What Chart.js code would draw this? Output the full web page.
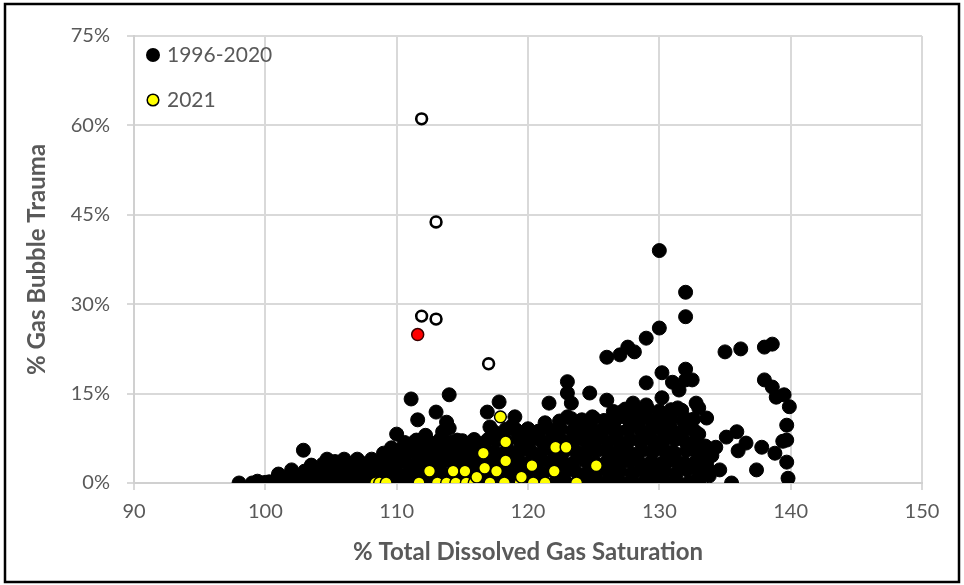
<!DOCTYPE html>
<html>
<head>
<meta charset="utf-8">
<script src="https://cdn.jsdelivr.net/npm/chart.js@4.4.1/dist/chart.umd.min.js"></script>
<style>
  html, body { margin: 0; padding: 0; background: #ffffff; }
  #wrap { width: 964px; height: 585px; position: relative; }
</style>
</head>
<body>
<div id="wrap"><canvas id="gbtChart"></canvas></div>
<script>
// % total dissolved gas saturation vs % gas bubble trauma, [x, y]
const obs19962020 = [
    // scattered / upper points
    [98.0,0],[99.0,0],[99.4,0.3],[99.8,0],[100.3,0.2],[100.8,0.5],[101.0,1.5],[101.5,0.4],
    [102.0,2.2],[102.3,0.8],[102.9,5.5],[103.0,1.2],[103.4,0.3],[103.7,2.0],[104.0,0.6],
    [104.3,1.6],[104.7,4.0],[104.8,2.4],
    [105.2,0.2],[105.4,1.2],[105.6,3.0],[106.0,4.0],[106.2,1.8],[106.5,0.4],[106.8,2.6],
    [107.0,4.0],[107.3,1.0],[107.6,3.2],[108.1,4.0],[108.0,0.2],[108.4,2.0],[108.8,3.4],
    [109.0,0.8],[109.3,4.8],[109.6,5.9],[109.7,2.6],[110.0,8.2],[110.0,1.0],[110.3,3.8],
    [110.5,5.9],[110.8,0.2],
    [111.1,14.1],[111.0,2.6],[111.3,6.8],[111.5,5.2],[111.6,10.6],[111.8,1.2],[112.0,4.0],
    [112.2,8.0],[112.5,0.5],[112.7,6.0],[113.0,11.9],[113.0,2.8],[113.3,4.6],[113.5,8.6],
    [113.8,10.2],[114.0,14.8],[114.0,9.2],[114.2,5.6],[114.5,3.2],[114.6,7.2],[114.8,0.6],
    [115.0,5.0],[115.3,6.6],[115.5,2.4],[115.8,4.2],
    [116.0,0.4],[116.2,6.4],[116.5,3.4],[116.9,11.9],[117.1,9.4],[117.0,7.4],[117.3,5.2],
    [117.5,1.0],[117.8,13.6],[117.7,3.2],[118.0,8.0],[118.4,5.6],[118.6,1.4],[118.8,9.6],
    [119.0,11.1],[119.1,8.9],[119.2,4.4],[119.5,6.4],[119.7,2.4],[120.0,0.4],[120.0,7.6],
    [120.3,5.0],[120.6,3.2],[120.8,8.6],
    [121.0,1.2],[121.3,10.1],[121.6,13.4],[121.5,6.0],[121.8,3.6],[122.0,8.4],[122.3,0.6],
    [122.5,4.6],[122.7,7.0],[123.0,17.0],[123.0,15.1],[123.3,13.4],[123.0,11.1],[123.2,2.6],
    [123.5,9.0],[123.8,5.0],[124.0,1.2],[124.2,7.4],[124.5,3.6],[124.7,15.1],[124.9,11.1],
    [124.8,9.2],[125.0,5.6],[125.3,0.4],[125.5,7.8],
    [126.0,13.9],[126.0,21.1],[125.9,2.2],[126.2,10.0],[126.4,5.0],[126.7,8.2],[126.8,0.8],
    [127.0,21.5],[127.1,11.9],[127.2,3.6],[127.5,6.6],[127.6,22.8],[127.8,9.6],[128.0,13.4],
    [128.1,22.0],[128.0,1.6],[128.3,4.8],[128.5,11.0],[128.7,7.6],[129.0,16.8],[129.0,13.1],
    [129.0,24.3],[129.0,0.4],[129.2,3.0],[129.5,9.6],[129.6,5.6],[130.0,39.0],[130.0,26.0],
    [130.2,18.5],[130.2,14.3],[130.0,11.6],[130.0,1.4],[130.3,7.4],
    [130.6,3.6],[130.8,10.0],[131.0,16.9],[131.0,5.2],[131.2,0.6],[131.5,15.6],[131.4,12.6],
    [131.7,8.0],[132.0,32.0],[132.0,27.9],[132.0,19.1],[132.0,17.3],[132.0,2.6],[132.2,10.6],
    [132.3,5.8],[132.5,17.3],[132.6,0.2],[132.8,13.4],[133.0,12.6],[133.0,8.2],[133.2,3.8],
    [133.6,10.9],[133.5,6.2],[133.8,1.2],[134.0,4.6],[134.3,6.0],[134.6,2.2],
    [135.0,22.0],[135.1,7.7],[135.5,0],[135.9,8.6],[136.2,22.5],[136.6,6.7],[136.0,5.4],
    [137.4,2.2],[137.8,6.0],[138.0,22.8],[138.6,23.3],[138.0,17.3],[138.6,16.1],[138.9,14.4],
    [139.5,14.8],[139.9,12.8],[139.7,9.7],[139.7,7.2],[139.4,7.0],[139.7,3.5],[139.8,0.8],
    [138.8,5.0],
    // dense mass near the bottom
    [100.0,0.1],[100.9,0.3],[101.8,0.0],[102.7,0.4],[103.6,0.1],[104.5,0.0],[105.3,0.5],
    [106.1,0.0],[107.0,0.3],[107.8,0.0],[108.6,0.4],[109.5,0.0],[110.3,0.3],[111.1,0.0],
    [112.0,0.2],[112.8,0.5],[113.6,0.1],[114.4,0.4],[115.2,0.2],[116.1,0.0],[116.9,0.5],
    [117.7,0.0],[118.6,0.3],[119.4,0.1],[120.3,0.0],[121.1,0.4],[122.0,0.0],[122.8,0.3],
    [123.7,0.0],[124.5,0.5],[125.4,0.0],[126.2,0.3],[127.1,0.0],[127.9,0.4],[128.8,0.0],
    [129.6,0.3],[130.5,0.0],[131.3,0.5],[132.2,0.0],[133.0,0.3],
    [101.2,1.0],[102.1,1.6],[103.0,2.0],[103.9,1.7],[104.8,2.1],[105.7,1.6],[106.6,2.0],
    [107.4,1.7],[108.3,2.2],[109.1,1.8],[110.0,2.0],[110.9,1.6],[111.7,2.1],[112.6,1.8],
    [113.4,2.0],[114.3,1.6],[115.1,2.1],[116.0,1.8],[116.8,2.0],[117.7,1.7],[118.5,2.2],
    [119.4,1.8],[120.2,2.0],[121.1,1.6],[121.9,2.1],[122.8,1.8],[123.6,2.0],[124.5,1.7],
    [125.3,2.2],[126.2,1.8],[127.0,2.0],[127.9,1.6],[128.7,2.1],[129.6,1.8],[130.4,2.0],
    [131.3,1.7],[132.1,2.2],[133.0,1.8],[133.8,2.0],
    [103.5,3.0],[104.4,3.2],[105.3,3.6],[106.2,3.4],[107.1,3.7],[108.0,3.3],[108.9,3.6],
    [109.8,3.4],[110.6,3.8],[111.5,3.4],[112.4,3.6],[113.2,3.3],[114.1,3.7],[114.9,3.4],
    [115.8,3.6],[116.6,3.3],[117.5,3.8],[118.3,3.4],[119.2,3.6],[120.0,3.3],[120.9,3.7],
    [121.7,3.4],[122.6,3.6],[123.4,3.3],[124.3,3.8],[125.1,3.4],[126.0,3.6],[126.8,3.3],
    [127.7,3.7],[128.5,3.4],[129.4,3.6],[130.2,3.3],[131.1,3.8],[131.9,3.4],[132.8,3.6],
    [133.6,3.3],
    [109.0,5.0],[109.9,5.4],[110.8,5.1],[111.7,5.5],[112.5,5.2],[113.4,5.4],[114.2,5.0],
    [115.1,5.5],[115.9,5.2],[116.8,5.4],[117.6,5.0],[118.5,5.5],[119.3,5.2],[120.2,5.4],
    [121.0,5.0],[121.9,5.5],[122.7,5.2],[123.6,5.4],[124.4,5.0],[125.3,5.5],[126.1,5.2],
    [127.0,5.4],[127.8,5.0],[128.7,5.5],[129.5,5.2],[130.4,5.4],[131.2,5.0],[132.1,5.5],
    [132.9,5.2],[133.7,5.4],
    [110.6,6.8],[111.5,7.2],[112.4,7.0],[113.3,7.3],[114.1,6.9],[115.0,7.1],[115.9,7.3],
    [116.7,6.8],[117.6,7.2],[118.4,7.0],[119.3,7.3],[120.1,6.9],[121.0,7.1],[121.8,7.3],
    [122.7,6.8],[123.5,7.2],[124.4,7.0],[125.2,7.3],[126.1,6.9],[126.9,7.1],[127.8,7.3],
    [128.6,6.8],[129.5,7.2],[130.3,7.0],[131.2,7.3],[132.0,6.9],[132.8,7.1],
    [117.4,8.6],[118.3,9.0],[119.1,8.8],[120.0,9.1],[120.8,8.7],[121.7,8.9],[122.5,9.1],
    [123.4,8.6],[124.2,9.0],[125.1,8.8],[125.9,9.1],[126.8,8.7],[127.6,8.9],[128.5,9.1],
    [129.3,8.6],[130.2,9.0],[131.0,8.8],[131.9,9.1],[132.7,8.7],
    [122.4,10.4],[123.3,10.8],[124.1,10.6],[125.0,10.9],[125.8,10.5],[126.7,10.7],
    [127.5,10.9],[128.4,10.4],[129.2,10.8],[130.1,10.6],[130.9,10.9],[131.8,10.5],
    [132.6,10.7],
    [126.5,12.0],[127.4,12.4],[128.3,12.2],[129.1,12.5],[130.0,12.1],[130.9,12.3],[131.7,12.2]
];

const obs2021 = [
    [108.4,0],[108.7,0],[109.2,0],[111.7,0],[113.1,0],[113.8,0],[114.5,0],[115.3,0],
    [115.9,0],[117.1,0],[118.2,0],[119.4,0],[120.4,0],[121.3,0],[123.7,0],
    [112.5,2.0],[114.3,2.0],[115.2,2.0],[116.1,1.0],[116.6,5.0],[116.7,2.5],[117.6,2.0],
    [117.9,11.1],[118.3,6.9],[118.3,3.7],[119.5,1.0],[120.3,2.9],[122.0,2.0],[122.1,6.0],
    [122.9,6.0],[125.2,2.9]
];

// open circles and the single red point
const openPoints = [[111.9,61.1],[113.0,43.8],[111.9,28.0],[113.0,27.5],[117.0,20.0]];
const redPoints = [[111.6,24.9]];

const xTicks = [90, 100, 110, 120, 130, 140, 150];
const yTicks = [0, 15, 30, 45, 60, 75];
const legendItems = ['1996-2020', '2021'];

const FONT = 'Lato, "Open Sans", sans-serif';
const GREY = '#595959';

function toXY(list) {
    return list.map(p => ({ x: p[0], y: p[1] }));
}

// frame round the picture and the in-plot legend
const framePlugin = {
    id: 'frame',
    afterDraw(chart) {
        const ctx = chart.ctx;
        ctx.save();
        ctx.strokeStyle = '#000000';
        ctx.lineWidth = 2.5;
        ctx.strokeRect(5, 4, 954, 578);

        ctx.font = '21px ' + FONT;
        ctx.textBaseline = 'middle';
        // 1996-2020
        ctx.beginPath();
        ctx.arc(153, 55, 7, 0, Math.PI * 2);
        ctx.fillStyle = '#000000';
        ctx.fill();
        ctx.fillStyle = GREY;
        ctx.fillText(legendItems[0], 167, 55);
        // 2021
        ctx.beginPath();
        ctx.arc(153, 100, 5.8, 0, Math.PI * 2);
        ctx.fillStyle = '#ffff00';
        ctx.fill();
        ctx.lineWidth = 1.5;
        ctx.strokeStyle = '#000000';
        ctx.stroke();
        ctx.fillStyle = GREY;
        ctx.fillText(legendItems[1], 167, 100);
        ctx.restore();
    }
};

new Chart(document.getElementById('gbtChart').getContext('2d'), {
    type: 'scatter',
    data: {
        datasets: [
            {
                label: 'open',
                data: toXY(openPoints),
                backgroundColor: '#ffffff',
                borderColor: '#000000',
                borderWidth: 2.6,
                pointRadius: 5.4
            },
            {
                label: 'red',
                data: toXY(redPoints),
                backgroundColor: '#ff0000',
                borderColor: '#3a0000',
                borderWidth: 1.5,
                pointRadius: 6
            },
            {
                label: legendItems[1],
                data: toXY(obs2021),
                backgroundColor: '#ffff00',
                borderColor: '#000000',
                borderWidth: 1.5,
                pointRadius: 5.9
            },
            {
                label: legendItems[0],
                data: toXY(obs19962020),
                backgroundColor: '#000000',
                borderColor: '#000000',
                borderWidth: 1,
                pointRadius: 7
            }
        ]
    },
    options: {
        responsive: true,
        maintainAspectRatio: false,
        animation: false,
        layout: {
            padding: { left: 6, right: 42, top: 36, bottom: 6 }
        },
        scales: {
            x: {
                type: 'linear',
                min: 90,
                max: 150,
                afterBuildTicks: (scale) => { scale.ticks = xTicks.map(v => ({ value: v })); },
                afterFit: (scale) => { scale.height = 96; },
                ticks: {
                    color: GREY,
                    font: { family: FONT, size: 20 },
                    padding: 10,
                    maxRotation: 0
                },
                grid: { color: '#d9d9d9', lineWidth: 2, tickLength: 7 },
                border: { color: '#d0d0d0', width: 2 },
                title: {
                    display: true,
                    text: '% Total Dissolved Gas Saturation',
                    color: GREY,
                    font: { family: FONT, size: 24, weight: 'bold' },
                    padding: { top: 0, bottom: 12 }
                }
            },
            y: {
                type: 'linear',
                min: 0,
                max: 75,
                afterBuildTicks: (scale) => { scale.ticks = yTicks.map(v => ({ value: v })); },
                afterFit: (scale) => { scale.width = 128; },
                ticks: {
                    color: GREY,
                    font: { family: FONT, size: 20 },
                    padding: 17,
                    callback: (v) => v + '%'
                },
                grid: { color: '#d9d9d9', lineWidth: 2, tickLength: 7 },
                border: { color: '#d0d0d0', width: 2 },
                title: {
                    display: true,
                    text: '% Gas Bubble Trauma',
                    color: GREY,
                    font: { family: FONT, size: 24, weight: 'bold' },
                    padding: { top: 17, bottom: 0 }
                }
            }
        },
        plugins: {
            legend: { display: false },
            tooltip: { enabled: false }
        }
    },
    plugins: [framePlugin]
});
</script>
</body>
</html>
